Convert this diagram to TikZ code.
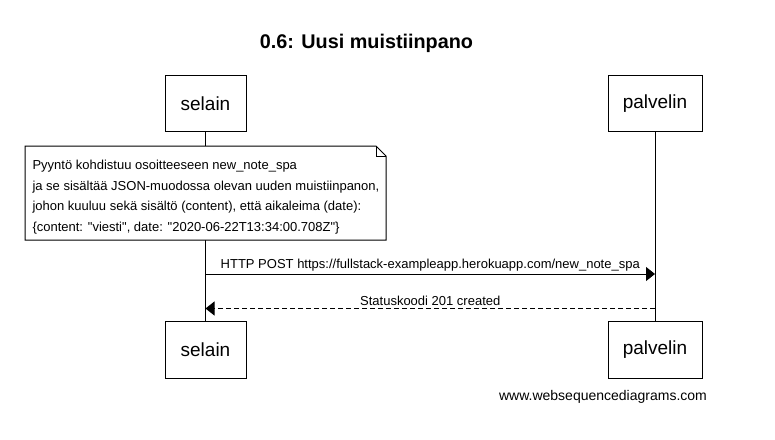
\documentclass[tikz,border=0pt]{standalone}
\usepackage{fontspec}
\setmainfont{Liberation Sans}
\usetikzlibrary{arrows.meta, positioning}
\definecolor{inkcolor}{RGB}{0, 0, 0}

\begin{document}
\begin{tikzpicture}[x=1pt, y=-1pt, line width=1pt, inkcolor,
    actor/.style={draw, minimum height=56.5pt, inner sep=0pt, font=\fontsize{19}{22}\selectfont},
    msg/.style={-{Triangle[length=9pt, width=14pt]}},
    reply/.style={msg, dash pattern=on 5pt off 3pt},
    msglabel/.style={font=\fontsize{13}{15}\selectfont, inner sep=2pt}]
        \useasboundingbox (0,0) rectangle (775,439);

        % Otsikko
        \node[font=\fontsize{19.8}{23}\selectfont\bfseries] (title) at (366.5,43.5) {0.6: Uusi muistiinpano};

        % Osapuolet
        \node[actor, minimum width=81pt] (selainTop) at (205.5,103.5) {selain};
        \node[actor, minimum width=94pt] (palvelinTop) at (655,103.5) {palvelin};
        \node[actor, minimum width=81pt] (selainBot) at (205.5,349.8) {selain};
        \node[actor, minimum width=94pt] (palvelinBot) at (655,349.8) {palvelin};

        % Elämänviivat
        \draw (selainTop) -- (selainBot);
        \draw (palvelinTop) -- (palvelinBot);

        % Huomautus
        \draw[fill=white] (25,146) -- (376,146) -- (386,156) -- (386,240) -- (25,240) -- cycle;
        \draw (376,146) -- (376,156) -- (386,156);
        \node[anchor=west, align=left, inner sep=0pt, font=\fontsize{13}{20.7}\selectfont] (noteText) at (32,197) {Pyyntö kohdistuu osoitteeseen new\_note\_spa\\
            ja se sisältää JSON-muodossa olevan uuden muistiinpanon,\\
            johon kuuluu sekä sisältö (content), että aikaleima (date):\\
            \{content: \textquotedbl viesti\textquotedbl, date: \textquotedbl 2020-06-22T13:34:00.708Z\textquotedbl\}};

        % Viestit
        \coordinate (postFrom) at (selainTop.south |- 0,274);
        \coordinate (postTo) at (palvelinTop.south |- 0,274);
        \draw[msg] (postFrom) -- node[above, msglabel] {HTTP POST https://fullstack-exampleapp.herokuapp.com/new\_note\_spa} (postTo);

        \coordinate (statusFrom) at (palvelinTop.south |- 0,308.5);
        \coordinate (statusTo) at (selainTop.south |- 0,308.5);
        \draw[reply] (statusFrom) -- node[above, msglabel] {Statuskoodi 201 created} (statusTo);

        % Vesileima
        \node[font=\fontsize{14}{16}\selectfont] (mark) at (603,397) {www.websequencediagrams.com};
    \end{tikzpicture}
\end{document}
